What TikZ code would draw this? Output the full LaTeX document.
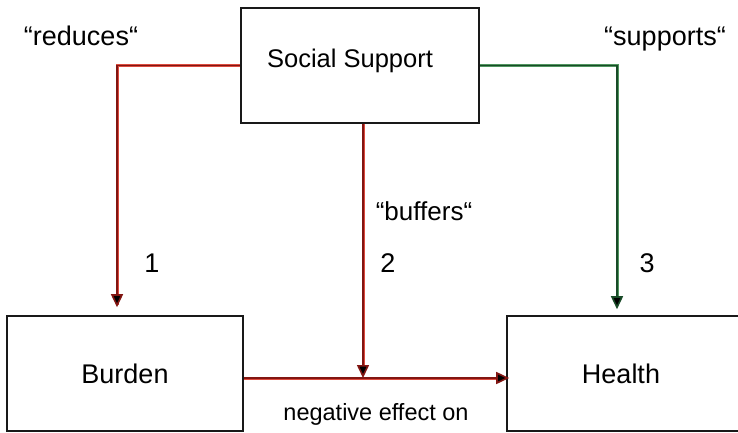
\documentclass[tikz,border=0pt]{standalone}
\usepackage{fontspec}
\setmainfont{Liberation Sans}
\usetikzlibrary{arrows.meta,calc}
\definecolor{redcore}{RGB}{130,22,18}
\definecolor{redhalo}{RGB}{220,75,62}
\definecolor{greencore}{RGB}{25,75,40}
\definecolor{greenhalo}{RGB}{80,150,95}
\tikzset{
  box/.style={draw=black!90,line width=1.6pt,fill=white,inner sep=0pt},
  lbl/.style={font=\fontsize{27}{30}\selectfont,anchor=base,inner sep=0pt},
  tip/.style={-{Triangle[width=12pt,length=13pt,fill=black]}},
  redln/.style={draw=redcore,line width=1.6pt,
    preaction={draw=redhalo,line width=3pt,-,shorten >=10pt}},
  greenln/.style={draw=greencore,line width=1.6pt,
    preaction={draw=greenhalo,line width=3pt,-,shorten >=10pt}},
}
\begin{document}
\begin{tikzpicture}[x=1pt,y=-1pt]
\useasboundingbox (0,0) rectangle (738,432);
\clip (0,0) rectangle (738,432);
% boxes
\node[box,minimum width=238pt,minimum height=115pt,
      font=\fontsize{25.5}{28}\selectfont] (ss) at (360,65.5)
      {\hspace*{-20pt}Social Support\rule[-14pt]{0pt}{1pt}};
\node[box,minimum width=236pt,minimum height=115pt,
      font=\fontsize{27}{30}\selectfont] (burden) at (125,373.5) {Burden};
\node[box,minimum width=240pt,minimum height=115pt,
      font=\fontsize{27}{30}\selectfont] (health) at (627,373.5)
      {\hspace*{-12pt}Health};
% junction point on the burden-health line
\coordinate (m) at (363,378);
% connectors
\draw[redln,tip,shorten >=8pt] (ss.west) -| ([xshift=-8pt]burden.north);
\draw[greenln,tip,shorten >=6pt] (ss.east) -| ([xshift=-10pt]health.north);
\draw[redln,tip] (ss.south -| m) -- (m);
\draw[redln,tip,shorten >=-3pt] (burden.east |- m) -- (health.west |- m);
% labels
\node[lbl] (lr) at (81,45) {“reduces“};
\node[lbl] (ls) at (665,45) {“supports“};
\node[lbl,font=\fontsize{26}{29}\selectfont] (lb) at (424,220) {“buffers“};
\node[lbl] (n1) at (152,272) {1};
\node[lbl] (n2) at (388,272) {2};
\node[lbl] (n3) at (647,272) {3};
\node[lbl,font=\fontsize{23.5}{26}\selectfont] (ne) at (376,420) {negative effect on};
\end{tikzpicture}
\end{document}
